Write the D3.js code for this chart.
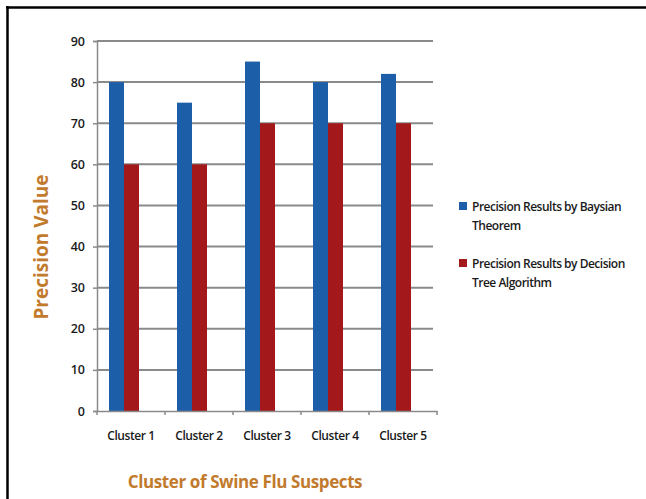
<!DOCTYPE html>
<html>
<head>
<meta charset="utf-8">
<script src="https://cdn.jsdelivr.net/npm/d3@7"></script>
<style>
  body { margin: 0; background: #fff; }
  svg { display: block; }
</style>
</head>
<body>
<div id="rootDiv"></div>
<script>
const width = 646
const height = 499

const categories = ["Cluster 1", "Cluster 2", "Cluster 3", "Cluster 4", "Cluster 5"]
const seriesNames = ["Precision Results by Baysian Theorem", "Precision Results by Decision Tree Algorithm"]
const baysian = [80, 75, 85, 80, 82]
const decisionTree = [60, 60, 70, 70, 70]
const yTicks = [0, 10, 20, 30, 40, 50, 60, 70, 80, 90]

const colors = ["#1d5ea8", "#a3191b"]
const titleColor = "#c27a2c"
const gridColor = "#8a8a8a"
const font = "'Open Sans', sans-serif"

const plot = { left: 97, right: 437, top: 41, bottom: 411 }

const svg = d3.select("#rootDiv")
    .append("svg")
    .attr("width", width)
    .attr("height", height)

// frame (top + left only, the rest runs off the picture)
svg.append("line").attr("x1", 6).attr("x2", width).attr("y1", 7.5).attr("y2", 7.5)
    .attr("stroke", "#000").attr("stroke-width", 2.5)
svg.append("line").attr("x1", 7.5).attr("x2", 7.5).attr("y1", 6).attr("y2", height)
    .attr("stroke", "#000").attr("stroke-width", 2.5)

const x = d3.scaleBand()
    .domain(categories)
    .range([plot.left, plot.right])

// bars sit a little left of the band centre in the original
const xInner = d3.scaleBand()
    .domain([0, 1])
    .range([-22, 8])

const y = d3.scaleLinear()
    .domain([0, 90])
    .range([plot.bottom, plot.top])

// gridlines
svg.append("g")
    .selectAll("line")
    .data(yTicks.filter(d => d > 0))
    .enter()
    .append("line")
    .attr("x1", plot.left)
    .attr("x2", 433)
    .attr("y1", d => y(d))
    .attr("y2", d => y(d))
    .attr("stroke", gridColor)
    .attr("stroke-width", 2)

// y axis
const yAxis = svg.append("g")
    .attr("transform", `translate(${plot.left},0)`)
    .call(d3.axisLeft(y).tickValues(yTicks).tickSize(4).tickPadding(8))
yAxis.select(".domain").attr("stroke", gridColor).attr("stroke-width", 1.5)
yAxis.selectAll(".tick line").attr("stroke", gridColor).attr("stroke-width", 1.5)
yAxis.selectAll("text")
    .attr("font-family", font)
    .attr("font-size", 12.5)
    .attr("font-weight", 600)
    .attr("fill", "#1a1a1a")

// bars
const groups = svg.append("g")
    .selectAll("g")
    .data(categories)
    .enter()
    .append("g")
    .attr("transform", d => `translate(${x(d) + x.bandwidth() / 2},0)`)

groups.selectAll("rect")
    .data((d, i) => [baysian[i], decisionTree[i]])
    .enter()
    .append("rect")
    .attr("x", (d, j) => xInner(j))
    .attr("width", xInner.bandwidth())
    .attr("y", d => y(d))
    .attr("height", d => y(0) - y(d))
    .attr("fill", (d, j) => colors[j])

// x axis
const xAxis = svg.append("g")
    .attr("transform", `translate(0,${plot.bottom})`)
    .call(d3.axisBottom(x).tickSize(0).tickPadding(20))
xAxis.select(".domain").attr("stroke", gridColor).attr("stroke-width", 1.5)
xAxis.selectAll("text")
    .attr("font-family", font)
    .attr("font-size", 12)
    .attr("font-weight", 600)
    .attr("letter-spacing", -0.4)
    .attr("fill", "#1a1a1a")
xAxis.selectAll(".edge")
    .data(d3.range(categories.length + 1))
    .enter()
    .append("line")
    .attr("x1", i => plot.left + i * x.step())
    .attr("x2", i => plot.left + i * x.step())
    .attr("y1", 0)
    .attr("y2", 4)
    .attr("stroke", gridColor)
    .attr("stroke-width", 1.5)

// axis titles
svg.append("text")
    .attr("transform", "translate(48,247) rotate(-90)")
    .attr("text-anchor", "middle")
    .attr("font-family", font)
    .attr("font-size", 19)
    .attr("font-weight", 700)
    .attr("fill", titleColor)
    .text("Precision Value")

svg.append("text")
    .attr("x", 245)
    .attr("y", 488)
    .attr("text-anchor", "middle")
    .attr("font-family", font)
    .attr("font-size", 17)
    .attr("font-weight", 700)
    .attr("letter-spacing", -0.4)
    .attr("fill", titleColor)
    .text("Cluster of Swine Flu Suspects")

// legend
const legendLines = [["Precision Results by Baysian", "Theorem"], ["Precision Results by Decision", "Tree Algorithm"]]
const legend = svg.append("g")
    .selectAll("g")
    .data(seriesNames)
    .enter()
    .append("g")
    .attr("transform", (d, i) => `translate(459,${202 + i * 57})`)

legend.append("rect")
    .attr("width", 8)
    .attr("height", 8)
    .attr("fill", (d, i) => colors[i])

legend.append("text")
    .attr("x", 13)
    .attr("y", 9)
    .attr("font-family", font)
    .attr("font-size", 12)
    .attr("font-weight", 600)
    .attr("letter-spacing", -0.5)
    .attr("fill", "#1a1a1a")
    .selectAll("tspan")
    .data((d, i) => legendLines[i])
    .enter()
    .append("tspan")
    .attr("x", 13)
    .attr("dy", (d, k) => k === 0 ? 0 : 19)
    .text(d => d)
</script>
</body>
</html>
